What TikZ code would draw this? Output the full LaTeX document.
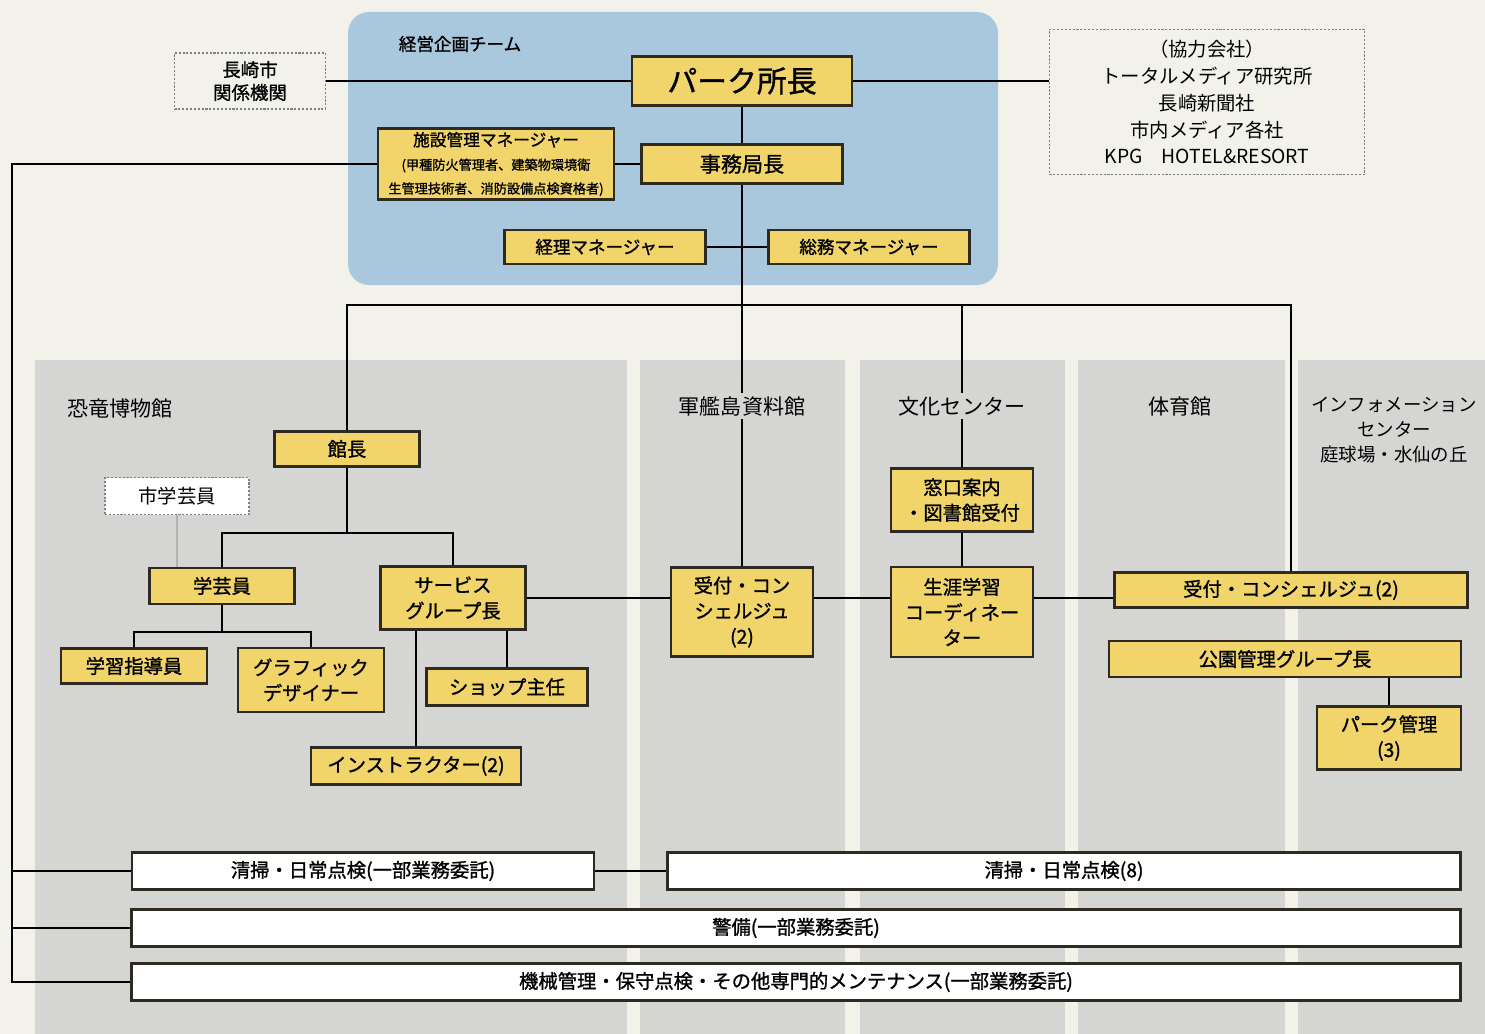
\documentclass[tikz,border=0pt]{standalone}
\usepackage{fontspec}
\setmainfont{Noto Sans CJK JP}[AutoFakeBold=1.2]
\usetikzlibrary{calc}

\definecolor{paper}{HTML}{F2F2EB}
\definecolor{panel}{HTML}{D5D5D3}
\definecolor{team}{HTML}{A9C7DD}
\definecolor{postfill}{HTML}{F1D56B}
\definecolor{ink}{HTML}{2E2A22}

\begin{document}
\begin{tikzpicture}[x=0.02cm, y=-0.02cm, line width=1.1pt,
    postbox/.style={draw=ink, line width=1.5pt, fill=postfill, inner sep=1pt, align=center, font=\fontsize{11}{14.5}\selectfont\bfseries},
    wbox/.style={draw=ink, line width=1.5pt, fill=white, inner sep=1pt, font=\fontsize{11}{14}\selectfont\bfseries},
    ext/.style={draw=gray, dash pattern=on 1.2pt off 1pt, line width=0.8pt, inner sep=1pt, align=center, font=\fontsize{11}{15.3}\selectfont},
    sect/.style={fill=panel, inner sep=2pt, align=center, font=\fontsize{12}{14.2}\selectfont},
    sz/.style 2 args={minimum width=#1*0.02cm, minimum height=#2*0.02cm}]
    % ground, panels and team area
    \fill[paper] (0,0) rectangle (1485,1034);
    \useasboundingbox (0,0) rectangle (1485,1034);
    \foreach \a/\b in {35/627, 640/845, 860/1065, 1078/1285, 1298/1485}
      \fill[panel] (\a,360) rectangle (\b,1034);
    \fill[team, rounded corners=12pt] (348,12) rectangle (998,285);
    \node[font=\fontsize{10}{12}\selectfont\bfseries] (teamlbl) at (460,44) {経営企画チーム};

    % top office
    \node[postbox, sz={220}{49}, font=\fontsize{17}{20}\selectfont\bfseries] (park) at (742,81) {パーク所長};
    \node[postbox, sz={201}{39}, font=\fontsize{12}{14}\selectfont\bfseries] (jimu) at (742,164) {事務局長};
    \node[postbox, sz={236}{71}] (shisetsu) at (496,164)
      {{\fontsize{9.5}{12}\selectfont 施設管理マネージャー}\\[-1pt]
       {\fontsize{7.5}{9.5}\selectfont (甲種防火管理者、建築物環境衛}\\[-1pt]
       {\fontsize{7.5}{9.5}\selectfont 生管理技術者、消防設備点検資格者)}};
    \node[postbox, sz={201}{34}, font=\fontsize{10}{12}\selectfont\bfseries] (keiri) at (605,247) {経理マネージャー};
    \node[postbox, sz={201}{34}, font=\fontsize{10}{12}\selectfont\bfseries] (somu) at (869,247) {総務マネージャー};
    \node[ext, sz={151}{56}, font=\fontsize{10.5}{13}\selectfont\bfseries] (nagasaki) at (250,81) {長崎市\\関係機関};
    \node[ext, sz={315}{145}] (kyoryoku) at (1207,102)
      {（協力会社）\\トータルメディア研究所\\長崎新聞社\\市内メディア各社\\KPG\quad HOTEL\&RESORT};

    % dinosaur museum
    \node[postbox, sz={145}{35}] (kancho) at (347,449) {館長};
    \node[ext, fill=white, sz={144}{37}] (shigakugei) at (177,496) {市学芸員};
    \node[postbox, sz={145}{36}] (gakugei) at (222,586) {学芸員};
    \node[postbox, sz={145}{63}] (service) at (453,598) {サービス\\グループ長};
    \node[postbox, sz={146}{35}] (gakushu) at (134,666) {学習指導員};
    \node[postbox, sz={146}{64}] (graphic) at (311,680) {グラフィック\\デザイナー};
    \node[postbox, sz={161}{37}] (shop) at (507,687) {ショップ主任};
    \node[postbox, sz={210}{37}] (instr) at (416,766) {インストラクター(2)};

    % other halls
    \node[postbox, sz={142}{89}] (uketsuke1) at (742,612) {受付・コン\\シェルジュ\\(2)};
    \node[postbox, sz={142}{63}] (mado) at (962,500) {窓口案内\\・図書館受付};
    \node[postbox, sz={142}{90}] (shogai) at (962,612) {生涯学習\\コーディネー\\ター};
    \node[postbox, sz={353}{35}] (uketsuke3) at (1291,590) {受付・コンシェルジュ(2)};
    \node[postbox, sz={352}{36}] (koen) at (1285,659) {公園管理グループ長};
    \node[postbox, sz={144}{63}] (parkkanri) at (1389,738) {パーク管理\\(3)};

    % common services
    \node[wbox, sz={462}{37}] (seiso1) at (363,871) {清掃・日常点検(一部業務委託)};
    \node[wbox, sz={793}{37}] (seiso2) at (1064,871) {清掃・日常点検(8)};
    \node[wbox, sz={1329}{37}] (keibi) at (796,928) {警備(一部業務委託)};
    \node[wbox, sz={1329}{37}] (kikai) at (796,982) {機械管理・保守点検・その他専門的メンテナンス(一部業務委託)};

    % lines
    \coordinate (bus) at (12,0);
    \coordinate (top) at (0,305);
    \coordinate (kbr) at (347,533);
    \coordinate (gbr) at (222,632);
    \draw (park) -- (nagasaki);
    \draw (park.east) -- (park.east -| kyoryoku.west);
    \draw (park) -- (jimu);
    \draw (shisetsu) -- (jimu);
    \draw (keiri) -- (somu);
    \draw (jimu) -- (uketsuke1);
    \draw (shisetsu.west) -| (bus |- kikai.west) -- (kikai.west);
    \draw (bus |- keibi.west) -- (keibi.west);
    \draw (bus |- seiso1.west) -- (seiso1.west);
    \draw (seiso1) -- (seiso2);
    \draw[line width=1.5pt] (kancho.north) |- (top -| uketsuke3.north) -- (uketsuke3.north);
    \draw (mado.north) -- (mado.north |- top);
    \draw (kancho) -- (kbr);
    \draw (gakugei.north) |- (kbr) -| (service.north);
    \draw (gakugei) -- (gbr);
    \draw (gakushu.north) |- (gbr) -| (graphic.north);
    \draw[gray!60, line width=0.6pt] (shigakugei.south) -- (shigakugei.south |- gakugei.north);
    \draw (shop.north) -- (shop.north |- service.south);
    \draw (instr.north) -- (instr.north |- service.south);
    \draw (service.east) -- (service.east -| uketsuke1.west);
    \draw (uketsuke1.east |- service.east) -- (service.east -| shogai.west);
    \draw (shogai.east |- service.east) -- (service.east -| uketsuke3.west);
    \draw (mado) -- (shogai);
    \draw (parkkanri.north) -- (parkkanri.north |- koen.south);

    % hall names
    \node[sect] (dino) at (120,408) {恐竜博物館};
    \node[sect] (gunkan) at (742,406) {軍艦島資料館};
    \node[sect] (bunka) at (962,406) {文化センター};
    \node[sect] (taiiku) at (1180,406) {体育館};
    \node[sect, font=\fontsize{10.5}{14.2}\selectfont] (info) at (1394,430) {インフォメーション\\センター\\庭球場・水仙の丘};
\end{tikzpicture}
\end{document}
